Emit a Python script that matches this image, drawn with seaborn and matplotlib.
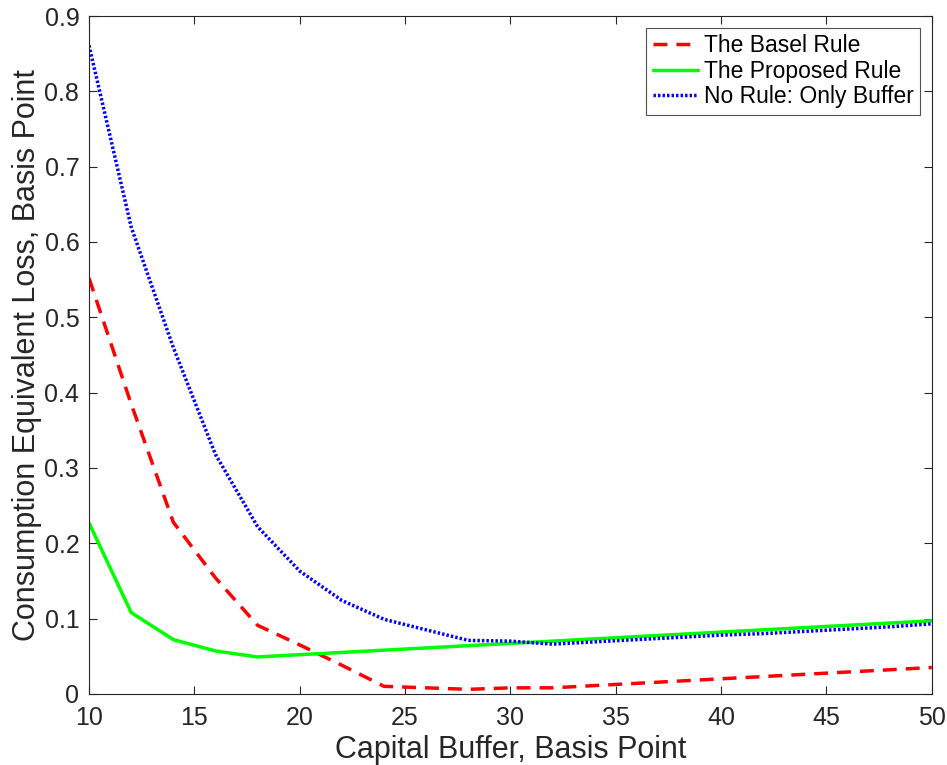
import matplotlib
matplotlib.use("Agg")
import matplotlib.pyplot as plt
import seaborn as sns
import pandas as pd

buffer_bp = [10, 12, 14, 16, 18, 20, 22, 24, 26, 28, 30, 32, 34, 36, 38, 40, 42, 44, 46, 48, 50]
basel_rule = [0.552, 0.385, 0.228, 0.154, 0.091, 0.065, 0.038, 0.010, 0.008, 0.006, 0.008, 0.008,
              0.011, 0.014, 0.017, 0.020, 0.023, 0.026, 0.029, 0.032, 0.035]
proposed_rule = [0.227, 0.108, 0.072, 0.057, 0.049, 0.052, 0.055, 0.058, 0.061, 0.064, 0.067, 0.070,
                 0.073, 0.076, 0.079, 0.082, 0.085, 0.088, 0.091, 0.094, 0.097]
no_rule = [0.861, 0.620, 0.460, 0.318, 0.222, 0.163, 0.124, 0.099, 0.085, 0.071, 0.070, 0.066,
           0.069, 0.072, 0.075, 0.078, 0.080, 0.083, 0.086, 0.089, 0.093]
series_names = ["The Basel Rule", "The Proposed Rule", "No Rule: Only Buffer"]
x_ticks = [10, 15, 20, 25, 30, 35, 40, 45, 50]
y_ticks = [0, 0.1, 0.2, 0.3, 0.4, 0.5, 0.6, 0.7, 0.8, 0.9]
y_tick_labels = ["0", "0.1", "0.2", "0.3", "0.4", "0.5", "0.6", "0.7", "0.8", "0.9"]

sns.set_style("white")
plt.rcParams['font.family'] = ['Liberation Sans', 'DejaVu Sans']

fig = plt.figure(figsize=(9.47, 7.65), dpi=100)
ax = fig.add_axes([0.094, 0.093, 0.890, 0.886])

df = pd.DataFrame({"x": buffer_bp, "basel": basel_rule, "prop": proposed_rule, "none": no_rule})
lw = 2.5
sns.lineplot(data=df, x="x", y="basel", ax=ax, color=(1, 0, 0), linewidth=lw,
             label=series_names[0])
ax.lines[-1].set_linestyle((0, (4.0, 2.6)))
sns.lineplot(data=df, x="x", y="prop", ax=ax, color=(0, 1, 0), linewidth=lw,
             label=series_names[1])
sns.lineplot(data=df, x="x", y="none", ax=ax, color=(0, 0, 1), linewidth=lw,
             label=series_names[2])
ax.lines[-1].set_linestyle((0, (0.7, 0.6)))

ax.set_xlim(10, 50)
ax.set_ylim(0, 0.9)
ax.set_xticks(x_ticks)
ax.set_yticks(y_ticks)
ax.set_yticklabels(y_tick_labels)
gray = (0.15, 0.15, 0.15)
for s in ax.spines.values():
    s.set_visible(True)
    s.set_color(gray)
    s.set_linewidth(0.8)
ax.tick_params(direction="in", length=6, width=0.8, colors=gray, labelsize=18,
               top=True, right=True, bottom=True, left=True, labelcolor=gray)
ax.tick_params(axis="y", pad=7)
ax.tick_params(axis="x", pad=9)
ax.set_xlabel("Capital Buffer, Basis Point", fontsize=22, color=gray, labelpad=3)
ax.set_ylabel("Consumption Equivalent Loss, Basis Point", fontsize=22, color=gray, labelpad=2)

leg = ax.legend(loc="upper right", fontsize=16.5, frameon=True, fancybox=False,
                handlelength=1.95, handletextpad=0.25, borderpad=0.3, labelspacing=0.1,
                borderaxespad=0.5)
leg.get_frame().set_edgecolor(gray)
leg.get_frame().set_linewidth(0.8)
for t in leg.get_texts():
    t.set_color("black")

fig.savefig("out.png", dpi=100)
